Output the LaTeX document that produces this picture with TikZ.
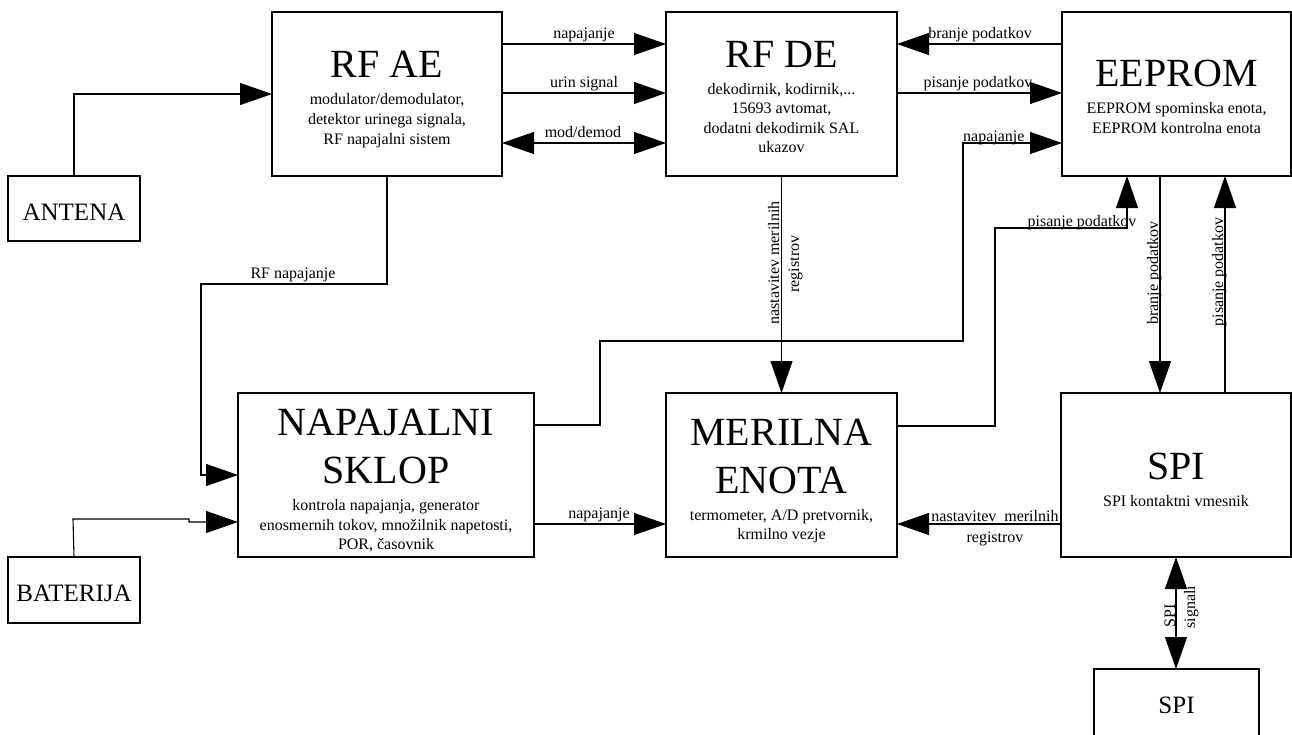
\documentclass[tikz,border=0pt]{standalone}
\usepackage{fontspec}
\setmainfont{Liberation Serif}
\usetikzlibrary{arrows.meta}
\begin{document}
\begin{tikzpicture}[x=1pt,y=-1pt,
  box/.style={draw, line width=1.1pt, inner sep=0pt, outer sep=0pt},
  bigbox/.style={box, minimum height=164pt},
  extbox/.style={box, minimum width=132pt},
  ttl/.style={font=\fontsize{40}{48}\selectfont, inner sep=0pt, anchor=base},
  sub/.style={font=\fontsize{16}{20}\selectfont, inner sep=0pt, anchor=base},
  lbl/.style={font=\fontsize{16}{20}\selectfont, inner sep=0pt, anchor=base},
  ext/.style={font=\fontsize{25}{30}\selectfont, inner sep=0pt, anchor=base},
  conn/.style={line width=1.1pt, -{Triangle[length=32pt,width=22pt]}},
  dconn/.style={line width=1.1pt, {Triangle[length=32pt,width=22pt]}-{Triangle[length=32pt,width=22pt]}},
  plain/.style={line width=1.1pt}
]
\useasboundingbox (0,0) rectangle (1292,734);
\fill[white] (0,0) rectangle (1292,734);
\clip (0,0) rectangle (1292,734);

% boxes
\node[bigbox, minimum width=230pt] (rfae) at (387,94) {};
\node[bigbox, minimum width=231pt] (rfde) at (781.5,94) {};
\node[bigbox, minimum width=229pt] (eeprom) at (1176.5,94) {};
\node[bigbox, minimum width=296pt] (napajalni) at (386,475) {};
\node[bigbox, minimum width=231pt] (merilna) at (781.5,475) {};
\node[bigbox, minimum width=230pt] (spi) at (1176,475) {};
\node[extbox, minimum height=65pt] (antena) at (74,208.5) {};
\node[extbox, minimum height=66pt] (baterija) at (74,590) {};
\node[box, minimum width=165pt, minimum height=91pt] (spiext) at (1176.5,714.5) {};

% box texts
\node[ttl] (rfae-t) at (387,77) {RF AE};
\node[sub] (rfae-s1) at (387,104) {modulator/demodulator,};
\node[sub] (rfae-s2) at (387,124) {detektor urinega signala,};
\node[sub] (rfae-s3) at (387,144) {RF napajalni sistem};

\node[ttl] (rfde-t) at (781.5,67) {RF DE};
\node[sub] (rfde-s1) at (781.5,94) {dekodirnik, kodirnik,...};
\node[sub] (rfde-s2) at (781.5,113.5) {15693 avtomat,};
\node[sub] (rfde-s3) at (781.5,133) {dodatni dekodirnik SAL};
\node[sub] (rfde-s4) at (781.5,152.5) {ukazov};

\node[ttl] (eeprom-t) at (1176.5,86.5) {EEPROM};
\node[sub] (eeprom-s1) at (1176.5,113) {EEPROM spominska enota,};
\node[sub] (eeprom-s2) at (1176.5,133) {EEPROM kontrolna enota};

\node[ttl] (napajalni-t1) at (386,435) {NAPAJALNI};
\node[ttl] (napajalni-t2) at (386,483) {SKLOP};
\node[sub] (napajalni-s1) at (386,510) {kontrola napajanja, generator};
\node[sub] (napajalni-s2) at (386,530) {enosmernih tokov, množilnik napetosti,};
\node[sub] (napajalni-s3) at (386,549) {POR, časovnik};

\node[ttl] (merilna-t1) at (781.5,445) {MERILNA};
\node[ttl] (merilna-t2) at (781.5,493) {ENOTA};
\node[sub] (merilna-s1) at (781.5,520) {termometer, A/D pretvornik,};
\node[sub] (merilna-s2) at (781.5,539.5) {krmilno vezje};

\node[ttl] (spi-t) at (1176,479) {SPI};
\node[sub] (spi-s1) at (1176,506) {SPI kontaktni vmesnik};

\node[ext] (antena-t) at (74,220) {ANTENA};
\node[ext] (baterija-t) at (74,601) {BATERIJA};
\node[ext] (spiext-t) at (1176.5,713) {SPI};

% connectors
\draw[conn] (antena.north) |- (rfae.west);
\draw[conn] (rfae.east |- 0,44) -- (rfde.west |- 0,44);
\draw[conn] (rfae.east |- 0,93) -- (rfde.west |- 0,93);
\draw[dconn] (rfae.east |- 0,143) -- (rfde.west |- 0,143);
\draw[conn] (eeprom.west |- 0,44) -- (rfde.east |- 0,44);
\draw[conn] (rfde.east |- 0,93) -- (eeprom.west |- 0,93);
\draw[conn] (napajalni.east |- 0,425) -- (600,425) -- (600,341) -- (963,341) -- (963,143) -- (eeprom.west |- 0,143);
\draw[conn] (rfde.south) -- (merilna.north);
\draw[conn] (merilna.east |- 0,426) -- (995,426) -- (995,228) -- (1127,228) -- (eeprom.south -| 1127,0);
\draw[conn] (eeprom.south -| 1160,0) -- (spi.north -| 1160,0);
\draw[conn] (spi.north -| 1225,0) -- (eeprom.south -| 1225,0);
\draw[conn] (spi.west |- 0,524) -- (merilna.east |- 0,524);
\draw[conn] (napajalni.east |- 0,524) -- (merilna.west |- 0,524);
\draw[conn] (rfae.south) -- (387,284) -- (201,284) -- (201,475) -- (napajalni.west |- 0,475);
\draw[conn] (baterija.north) -- (73,519) -- (189,519) -- (189,522) -- (napajalni.west |- 0,522);
\draw[dconn] (spi.south) -- (spi.south |- spiext.north);

% connector labels
\node[lbl] (l-nap1) at (584,38) {napajanje};
\node[lbl] (l-urin) at (584,87) {urin signal};
\node[lbl] (l-mod) at (583,137) {mod/demod};
\node[lbl] (l-bran1) at (980,38) {branje podatkov};
\node[lbl] (l-pis1) at (978,87) {pisanje podatkov};
\node[lbl, anchor=base west] (l-nap2) at (963,141) {napajanje};
\node[lbl] (l-pis2) at (1082,226) {pisanje podatkov};
\node[lbl] (l-rfnap) at (293,278) {RF napajanje};
\node[lbl] (l-nap3) at (599,518) {napajanje};
\node[lbl] (l-nast1) at (995,521) {nastavitev\ \ merilnih};
\node[lbl] (l-nast2) at (995,542) {registrov};
\node[lbl, rotate=90] (l-bran2) at (1158,273) {branje podatkov};
\node[lbl, rotate=90] (l-pis3) at (1223,272) {pisanje podatkov};
\node[lbl, rotate=90] (l-nast3) at (779,263) {nastavitev merilnih};
\node[lbl, rotate=90] (l-nast4) at (799,264) {registrov};
\node[lbl, rotate=90] (l-spi1) at (1175,616) {SPI};
\node[lbl, rotate=90] (l-spi2) at (1195,607) {signali};
\end{tikzpicture}
\end{document}
